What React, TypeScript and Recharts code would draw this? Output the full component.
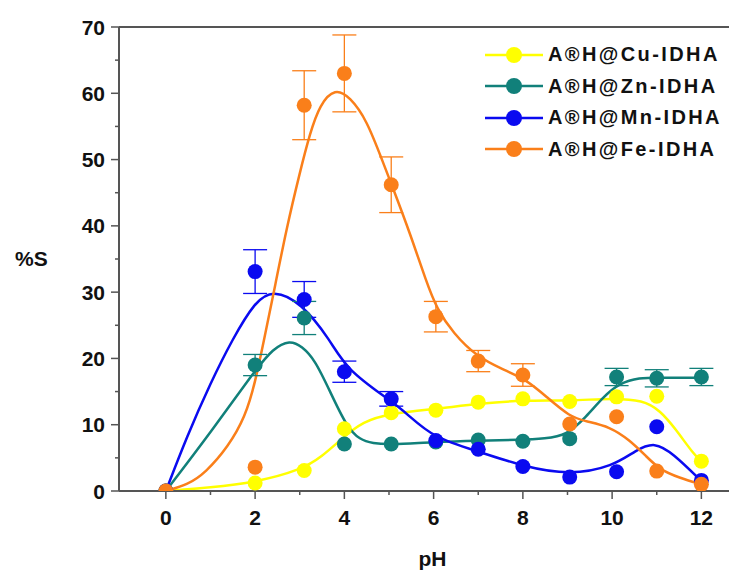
import React from "react";
import {
  ComposedChart,
  Line,
  Scatter,
  ErrorBar,
  XAxis,
  YAxis,
  ReferenceLine,
  Label,
} from "recharts";

// measured pH values
const PH = [0, 2, 3.1, 4, 5.05, 6.05, 7, 8, 9.05, 10.1, 11, 12];

const cuVals = [0, 1.2, 3.1, 9.4, 11.8, 12.2, 13.4, 13.9, 13.5, 14.2, 14.3, 4.5];
const znVals = [0, 19.0, 26.1, 7.1, 7.1, 7.4, 7.7, 7.5, 7.9, 17.2, 17.0, 17.2];
const mnVals = [0, 33.1, 28.9, 18.0, 13.9, 7.6, 6.3, 3.7, 2.1, 2.9, 9.7, 1.6];
const feVals = [0, 3.6, 58.2, 63.0, 46.2, 26.3, 19.6, 17.5, 10.1, 11.2, 3.0, 1.0];

const znErr = [null, 1.6, 2.5, null, null, null, null, null, null, 1.3, 1.3, 1.3];
const mnErr = [null, 3.3, 2.7, 1.6, 1.1, null, null, null, null, null, null, null];
const feErr = [null, null, 5.2, 5.8, 4.2, 2.3, 1.6, 1.7, null, null, null, null];

// fitted curves as [pH, %S]
const cuFit = [
  [0, 0], [1, 0.5], [2, 1.3], [3.04, 3.2], [3.5, 5.2], [3.94, 7.9], [4.42, 10.5],
  [5.02, 11.7], [6.07, 12.4], [7.04, 13.2], [8, 13.7], [9.05, 13.6], [10.02, 14.0],
  [10.69, 13.7], [11.07, 12.2], [11.44, 9.2], [11.81, 5.7], [12, 4.5],
];
const znFit = [
  [0, 0], [1, 8.8], [2, 18.2], [2.4, 21.5], [2.78, 22.8], [3.05, 21.8], [3.34, 19.8],
  [3.68, 15], [4.05, 9.7], [4.35, 7.7], [4.64, 7.2], [5, 7.0], [6, 7.4], [7, 7.6],
  [7.93, 7.7], [8.5, 7.9], [8.98, 8.4], [9.42, 11.2], [9.8, 14.2], [10.17, 16.3],
  [10.62, 17.1], [11, 17.1], [12, 17.1],
];
const mnFit = [
  [0, 0], [0.47, 8.2], [1, 16.3], [1.5, 23.0], [2, 28.6], [2.4, 30.4], [3.04, 28.4],
  [3.68, 22.8], [4.05, 18.3], [5.02, 13.7], [5.4, 11.7], [5.99, 8.0], [7.04, 5.9],
  [8, 3.7], [9.05, 2.4], [10.02, 3.7], [10.54, 6.2], [10.95, 7.4], [11.36, 5.7], [12, 1.5],
];
const feFit = [
  [0, 0], [0.5, 1.0], [0.88, 2.7], [1.4, 6.7], [1.78, 11.2], [2.0, 16.3], [2.22, 23.5],
  [2.45, 31], [2.7, 39.5], [3.0, 48], [3.23, 54], [3.45, 58.3], [3.79, 60.8],
  [4.13, 59.4], [4.5, 56], [4.87, 49.5], [5.1, 45.5], [5.47, 38.9], [5.84, 31.5],
  [6.07, 27.5], [6.44, 23.8], [6.96, 20.3], [7.56, 18.3], [8.08, 16.8], [8.53, 14.2],
  [9.05, 11.2], [9.42, 10.5], [9.95, 9.7], [10.39, 7.7], [10.77, 5.2], [11.07, 3.2],
  [11.5, 2.0], [12, 1.0],
];

const xTicks = [0, 1, 2, 3, 4, 5, 6, 7, 8, 9, 10, 11, 12];
const yTicks = [0, 5, 10, 15, 20, 25, 30, 35, 40, 45, 50, 55, 60, 65, 70];

const series = [
  { name: "A®H@Cu-IDHA", color: "#FFFF00", vals: cuVals, err: null, fit: cuFit },
  { name: "A®H@Zn-IDHA", color: "#11807A", vals: znVals, err: znErr, fit: znFit },
  { name: "A®H@Mn-IDHA", color: "#0A0AF0", vals: mnVals, err: mnErr, fit: mnFit },
  { name: "A®H@Fe-IDHA", color: "#FA7F1A", vals: feVals, err: feErr, fit: feFit },
];

const AXIS_X = 119;
const AXIS_Y = 491;
const AXIS_COLOR = "#555";
const FONT = "'Liberation Sans', Arial, sans-serif";

const YTick = (props: any) => {
  const { y, payload } = props;
  const major = payload.value % 10 === 0;
  return (
    <g>
      <line x1={AXIS_X - (major ? 8 : 4)} x2={AXIS_X} y1={y} y2={y} stroke={AXIS_COLOR} strokeWidth={1.5} />
      {major && (
        <text x={105} y={y + 7.5} textAnchor="end" fontSize={21} fontWeight="bold" fill="#111" fontFamily={FONT}>
          {payload.value}
        </text>
      )}
    </g>
  );
};

const XTick = (props: any) => {
  const { x, payload } = props;
  const major = payload.value % 2 === 0;
  return (
    <g>
      <line x1={x} x2={x} y1={AXIS_Y} y2={AXIS_Y + (major ? 8 : 4)} stroke={AXIS_COLOR} strokeWidth={1.5} />
      {major && (
        <text x={x} y={525} textAnchor="middle" fontSize={21} fontWeight="bold" fill="#111" fontFamily={FONT}>
          {payload.value}
        </text>
      )}
    </g>
  );
};

const ChartLegend = () => (
  <div style={{ position: "absolute", top: 39, left: 483, fontFamily: FONT }}>
    {series.map((s) => (
      <div key={s.name} style={{ height: 31.5, display: "flex", alignItems: "center" }}>
        <svg width={62} height={20}>
          <line x1={2} x2={60} y1={10} y2={10} stroke={s.color} strokeWidth={2.5} />
          <circle cx={31} cy={10} r={8} fill={s.color} />
        </svg>
        <span style={{ marginLeft: 3, fontSize: 20, fontWeight: "bold", color: "#111", letterSpacing: 2.4, whiteSpace: "nowrap" }}>
          {s.name}
        </span>
      </div>
    ))}
  </div>
);

export default function App() {
  return (
    <div style={{ position: "relative", left: -8, top: -8, width: 737, height: 570, overflow: "hidden", background: "#fff" }}>
      <ComposedChart width={748} height={570} margin={{ top: 27, right: 2, bottom: 0, left: 0 }}>
        <XAxis
          type="number"
          dataKey="x"
          domain={[-1.05, 13]}
          ticks={xTicks}
          tick={<XTick />}
          tickLine={false}
          axisLine={{ stroke: AXIS_COLOR, strokeWidth: 2 }}
          height={79}
          allowDataOverflow
        >
          <Label value="pH" position="insideBottom" offset={4} fontSize={21} fontWeight="bold" fill="#111" fontFamily={FONT} />
        </XAxis>
        <YAxis
          type="number"
          domain={[0, 70]}
          ticks={yTicks}
          tick={<YTick />}
          tickLine={false}
          axisLine={{ stroke: AXIS_COLOR, strokeWidth: 2 }}
          width={AXIS_X}
          allowDataOverflow
        >
          <Label value="%S" position="insideLeft" offset={15} fontSize={21} fontWeight="bold" fill="#111" fontFamily={FONT} />
        </YAxis>
        <ReferenceLine y={70} stroke={AXIS_COLOR} strokeWidth={2} />
        {series.map((s) => (
          <Line
            key={"fit-" + s.name}
            data={s.fit.map(([x, y]) => ({ x, y }))}
            dataKey="y"
            type="basis"
            stroke={s.color}
            strokeWidth={2.5}
            dot={false}
            activeDot={false}
            legendType="none"
            isAnimationActive={false}
          />
        ))}
        {series.map((s) => (
          <Scatter
            key={"pts-" + s.name}
            name={s.name}
            data={PH.map((x, i) => ({ x, y: s.vals[i], err: s.err ? s.err[i] : null }))}
            dataKey="y"
            fill={s.color}
            isAnimationActive={false}
            shape={(p: any) => <circle cx={p.cx} cy={p.cy} r={7.5} fill={s.color} />}
          >
            {s.err && <ErrorBar dataKey="err" direction="y" width={12} stroke={s.color} strokeWidth={1.3} />}
          </Scatter>
        ))}
      </ComposedChart>
      <ChartLegend />
    </div>
  );
}
